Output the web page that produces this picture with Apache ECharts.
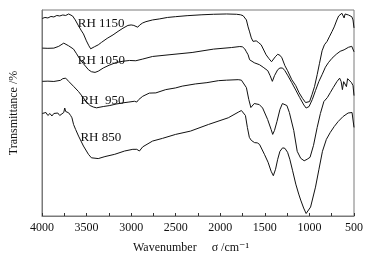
<!DOCTYPE html>
<html>
<head>
<meta charset="utf-8">
<script src="https://cdn.jsdelivr.net/npm/echarts@6/dist/echarts.min.js"></script>
<style>
  html, body { margin: 0; padding: 0; background: #fff; }
  #chart { width: 374px; height: 259px; }
</style>
</head>
<body>
<div id="chart"></div>
<script>
// FTIR spectra, [wavenumber, transmittance (arbitrary offset units)]
const rh1150 = [
  [3997, 198.5], [3967, 199.5], [3934, 199], [3900, 200.5], [3867, 200], [3834, 201.5],
  [3801, 201], [3767, 202], [3734, 201.5], [3701, 203], [3679, 202.5], [3657, 201],
  [3627, 197], [3590, 191], [3557, 186], [3535, 183], [3502, 176], [3474, 171],
  [3454, 168], [3435, 168.5], [3413, 170], [3391, 171.5], [3369, 172], [3332, 174.5],
  [3269, 178.5], [3203, 182], [3147, 185.5], [3092, 188.7], [3036, 191.5], [3000, 192],
  [2970, 191.5], [2948, 190.5], [2926, 189.7], [2903, 192], [2870, 194], [2834, 195.3],
  [2760, 197], [2685, 198], [2593, 199.5], [2501, 200.3], [2372, 201.3], [2206, 202.2],
  [2076, 202.7], [1929, 203], [1818, 202.7], [1774, 202.2], [1744, 201.3], [1724, 199.5],
  [1707, 197], [1688, 190], [1671, 185], [1652, 179], [1633, 175.5], [1613, 176],
  [1597, 176], [1574, 174.5], [1541, 172], [1519, 170], [1486, 162], [1453, 158],
  [1425, 155], [1408, 156.5], [1383, 160], [1356, 162.5], [1331, 161.5], [1309, 159],
  [1275, 151], [1245, 146], [1198, 137], [1153, 131], [1117, 124], [1076, 118],
  [1043, 114], [1021, 113], [998, 115], [971, 122], [943, 130], [913, 142],
  [888, 153], [858, 166], [832, 172], [802, 175.5], [777, 180], [747, 185.3],
  [722, 190], [692, 197], [672, 201], [655, 202.5], [636, 203.7], [622, 202.5],
  [611, 199], [600, 203], [583, 203.5], [563, 202], [544, 202.5], [525, 200.3],
  [511, 197], [500, 189]
];

const rh1050 = [
  [3997, 168.7], [3934, 168.5], [3867, 168.7], [3812, 170.5], [3756, 173.7], [3734, 172.5],
  [3701, 171], [3646, 167.7], [3612, 163], [3571, 157], [3535, 153], [3479, 147],
  [3446, 145], [3405, 144.3], [3369, 145.5], [3313, 148.7], [3247, 151.5], [3166, 154.3],
  [3092, 155.5], [3018, 156.3], [2948, 156], [2926, 155.5], [2870, 157.7], [2760, 160.3],
  [2575, 162], [2316, 164.3], [2076, 167.7], [1873, 169.3], [1781, 170.3], [1752, 170],
  [1726, 168], [1707, 165], [1688, 162], [1671, 157], [1652, 155], [1619, 154],
  [1597, 153.7], [1560, 152], [1519, 149.5], [1467, 146], [1441, 141], [1416, 135.3],
  [1392, 141], [1356, 147], [1331, 148.7], [1301, 148.7], [1275, 146], [1245, 141.5],
  [1198, 134], [1153, 126.5], [1109, 119], [1062, 111.5], [1037, 108.5], [1021, 108],
  [1004, 110], [968, 117], [932, 126], [895, 135], [858, 142], [821, 149.5],
  [788, 154], [747, 158.5], [699, 162.5], [655, 165.5], [611, 167], [563, 169.5],
  [525, 170.5], [508, 170.5], [500, 165]
];

const rh950 = [
  [3997, 135.3], [3934, 135.5], [3867, 135.2], [3793, 136.3], [3767, 138], [3749, 139.7],
  [3734, 138.5], [3701, 135.3], [3646, 130.3], [3590, 125], [3535, 118.7], [3502, 114.5],
  [3461, 111], [3424, 109.5], [3388, 108.7], [3313, 110], [3239, 111], [3169, 112.5],
  [3092, 113.7], [3025, 114.5], [2962, 115.3], [2937, 114.5], [2915, 117], [2870, 120.3],
  [2796, 123.5], [2723, 123.7], [2612, 127], [2501, 128.7], [2427, 130.5], [2280, 132.7],
  [2150, 134], [2021, 136], [1929, 136.5], [1799, 137], [1763, 136.5], [1741, 135],
  [1707, 129], [1680, 117], [1657, 109], [1641, 111], [1619, 113], [1597, 113.5],
  [1563, 112], [1525, 108.5], [1469, 97], [1430, 87], [1412, 82], [1392, 86],
  [1364, 95], [1331, 107], [1303, 113], [1281, 113.5], [1253, 111], [1225, 104],
  [1176, 86], [1137, 65], [1098, 58], [1059, 55.5], [1026, 57], [993, 59],
  [954, 71], [913, 89], [877, 103], [838, 115], [799, 119], [766, 124],
  [733, 129], [692, 135], [661, 138.5], [644, 135], [630, 127], [616, 135],
  [600, 137], [585, 130], [572, 138], [555, 137], [528, 134], [511, 131], [500, 121]
];

const rh850 = [
  [3997, 103], [3978, 101.5], [3956, 104], [3934, 101], [3911, 103], [3889, 100.5],
  [3867, 103], [3845, 101], [3823, 103.5], [3801, 101], [3779, 103], [3756, 104],
  [3745, 108.5], [3734, 105], [3712, 105.5], [3701, 103.7], [3679, 101], [3664, 98.7],
  [3646, 92], [3623, 87], [3590, 80.3], [3535, 70.3], [3479, 62], [3446, 58.5],
  [3424, 57], [3369, 57.7], [3294, 59.7], [3184, 62], [3073, 65.3], [2981, 67],
  [2937, 67], [2907, 65.3], [2870, 69.5], [2760, 75.3], [2649, 78], [2501, 82],
  [2335, 85.3], [2132, 92], [1910, 98.7], [1799, 104.3], [1763, 106], [1741, 105.5],
  [1718, 101], [1696, 89], [1674, 79], [1652, 76], [1615, 73.7], [1585, 73.5],
  [1560, 72], [1541, 71], [1505, 62], [1464, 54], [1430, 45], [1405, 40.5],
  [1380, 47], [1356, 57], [1331, 65], [1301, 68.5], [1275, 68], [1245, 64],
  [1220, 57], [1190, 46], [1153, 32], [1120, 22], [1098, 16], [1065, 8],
  [1037, 2.5], [1015, 3], [987, 9], [932, 29], [893, 47], [854, 65],
  [810, 77], [766, 84], [721, 90], [677, 95], [622, 100], [566, 103.5],
  [522, 104], [500, 89]
];

const seriesNames = ['RH 1150', 'RH 1050', 'RH  950', 'RH 850'];
const seriesData = [rh1150, rh1050, rh950, rh850];
// label anchor [wavenumber, value] for the curve names
const labelAnchors = [[3605, 193.5], [3605, 156], [3575, 116], [3575, 79]];

const serif = '"Liberation Serif", "DejaVu Serif", serif';

const chart = echarts.init(document.getElementById('chart'));

const option = {
  animation: false,
  backgroundColor: '#fff',
  grid: {
    left: 38, top: 10, right: 20, bottom: 42,
    show: true, borderColor: '#7a7a7a', borderWidth: 1
  },
  xAxis: {
    type: 'value',
    inverse: true,
    min: 500,
    max: 4000,
    interval: 250,
    name: 'Wavenumber     σ /cm\u207B\u00B9',
    nameLocation: 'middle',
    nameGap: 26,
    nameTextStyle: { fontFamily: serif, fontSize: 12, color: '#111', padding: [0, 14, 0, 0] },
    axisLine: { lineStyle: { color: '#7a7a7a' } },
    axisTick: { inside: true, length: 3, lineStyle: { color: '#333' } },
    axisLabel: {
      fontFamily: serif, fontSize: 12, color: '#111', margin: 6,
      formatter: v => (v % 500 === 0 ? String(v) : '')
    },
    splitLine: { show: false }
  },
  yAxis: {
    type: 'value',
    min: 0,
    max: 207,
    name: 'Transmittance /%',
    nameLocation: 'middle',
    nameGap: 22,
    nameTextStyle: { fontFamily: serif, fontSize: 12, color: '#111' },
    axisLine: { show: true, lineStyle: { color: '#7a7a7a' } },
    axisTick: { show: false },
    axisLabel: { show: false },
    splitLine: { show: false }
  },
  series: seriesData.map((d, i) => ({
    name: seriesNames[i],
    type: 'line',
    data: d,
    showSymbol: false,
    lineStyle: { color: '#111', width: 1 },
    markPoint: {
      symbol: 'rect',
      symbolSize: 1,
      itemStyle: { color: 'transparent' },
      label: {
        show: true,
        position: 'right',
        distance: 0,
        formatter: seriesNames[i],
        fontFamily: serif,
        fontSize: 13,
        color: '#111'
      },
      data: [{ coord: labelAnchors[i] }]
    }
  }))
};

chart.setOption(option);
</script>
</body>
</html>
